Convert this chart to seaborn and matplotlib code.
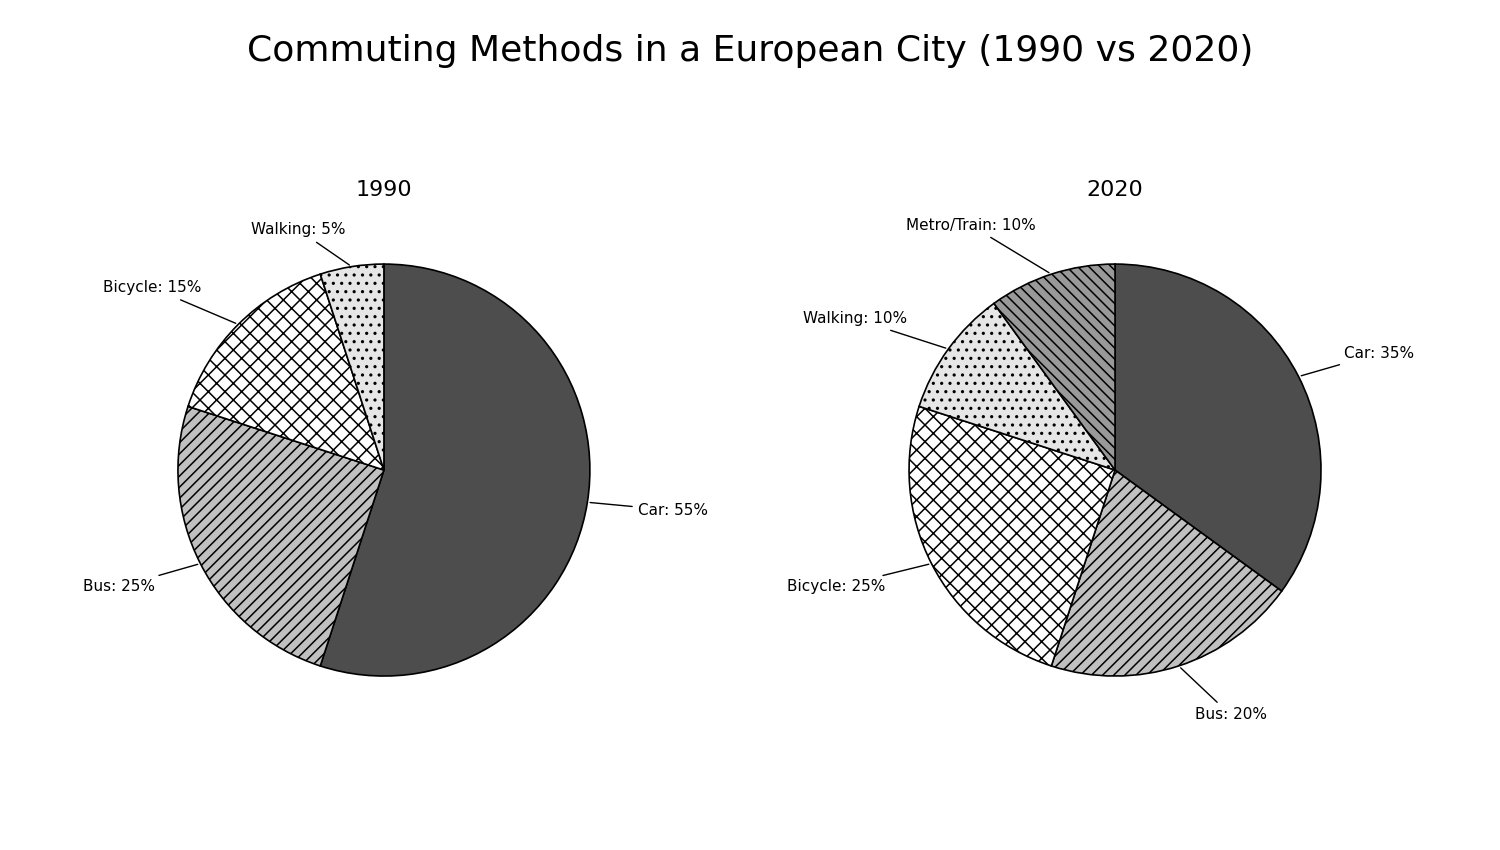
import numpy as np
import seaborn as sns
import matplotlib.pyplot as plt

sns.set_style("white")
plt.rcParams["text.color"] = "black"
plt.rcParams["axes.titlecolor"] = "black"
plt.rcParams["hatch.linewidth"] = 1.1

# data
methods_1990 = ["Car", "Bus", "Bicycle", "Walking"]
shares_1990 = [55, 25, 15, 5]
methods_2020 = ["Car", "Bus", "Bicycle", "Walking", "Metro/Train"]
shares_2020 = [35, 20, 25, 10, 10]

# styling per method
colors = {"Car": "#4d4d4d", "Bus": "#c0c0c0", "Bicycle": "#ffffff",
          "Walking": "#e6e6e6", "Metro/Train": "#999999"}
hatches = {"Car": "", "Bus": "///", "Bicycle": "xx", "Walking": "..",
           "Metro/Train": "\\\\\\"}

fig = plt.figure(figsize=(15, 8.5), dpi=100)
ax1 = fig.add_axes([0.0843, 0.144, 0.3433, 0.606])
ax2 = fig.add_axes([0.5717, 0.144, 0.3433, 0.606])


def draw_pie(ax, labels, values, title):
    wedges, _ = ax.pie(values, startangle=90, counterclock=False,
                       colors=[colors[m] for m in labels],
                       wedgeprops=dict(edgecolor="black", linewidth=1.2))
    for w, m in zip(wedges, labels):
        w.set_hatch(hatches[m])
    ax.set_xlim(-1.25, 1.25)
    ax.set_ylim(-1.25, 1.25)
    ax.set_aspect("equal")
    ax.set_title(title, fontsize=16, pad=12)

    for w, m, v in zip(wedges, labels, values):
        ang = (w.theta2 + w.theta1) / 2.0
        x = np.cos(np.deg2rad(ang))
        y = np.sin(np.deg2rad(ang))
        dist = 1.18 if v < 10 else 1.25
        ha = "left" if x > 0 else "right"
        ax.annotate(f"{m}: {v}%", xy=(x, y), xytext=(dist * x, dist * y),
                    ha=ha, va="center", fontsize=11,
                    arrowprops=dict(arrowstyle="-", color="black", lw=1))


draw_pie(ax1, methods_1990, shares_1990, "1990")
draw_pie(ax2, methods_2020, shares_2020, "2020")

fig.suptitle("Commuting Methods in a European City (1990 vs 2020)",
             fontsize=26, y=0.96)

fig.savefig("out.png", dpi=100)
